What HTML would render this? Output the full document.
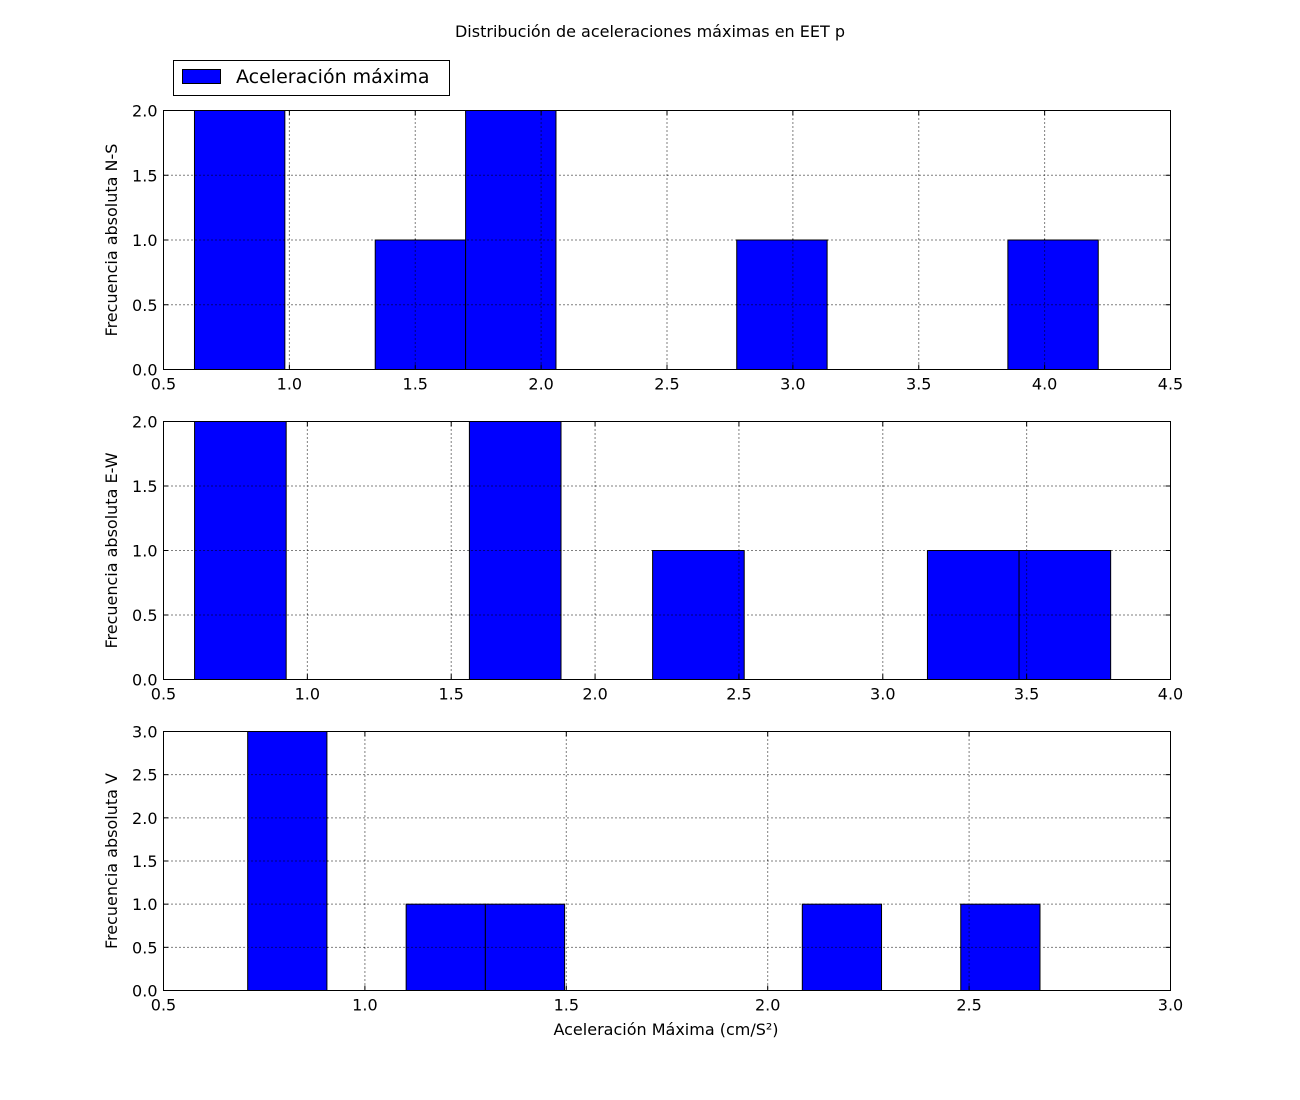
<!DOCTYPE html>
<html><head><meta charset="utf-8"><style>
body{margin:0;background:#fff;}
svg{display:block;font-family:"DejaVu Sans","Liberation Sans",sans-serif;}
</style></head><body>
<svg id="chart" width="1300" height="1100" xmlns="http://www.w3.org/2000/svg">
<rect width="1300" height="1100" fill="#fff"/>
<text x="650" y="37" text-anchor="middle" font-size="16">Distribución de aceleraciones máximas en EET p</text>
<g>
<rect x="173.5" y="60.5" width="276" height="35" fill="#fff" stroke="#000"/>
<rect x="182.5" y="69.5" width="38" height="14" fill="#0000ff" stroke="#000"/>
<text x="236" y="83" font-size="19">Aceleración máxima</text>
</g>
<text x="666" y="1035" text-anchor="middle" font-size="16">Aceleración Máxima (cm/S²)</text>
</svg>
<script>
const nsStart = 0.623, nsWidth = 0.359;
const nsCounts = [2,0,1,2,0,0,1,0,0,1];
const nsXTicks = [0.5,1.0,1.5,2.0,2.5,3.0,3.5,4.0,4.5];
const nsYTicks = [0.0,0.5,1.0,1.5,2.0];
const ewStart = 0.608, ewWidth = 0.3184;
const ewCounts = [2,0,0,2,0,1,0,0,1,1];
const ewXTicks = [0.5,1.0,1.5,2.0,2.5,3.0,3.5,4.0];
const ewYTicks = [0.0,0.5,1.0,1.5,2.0];
const vStart = 0.709, vWidth = 0.1967;
const vCounts = [3,0,1,1,0,0,0,1,0,1];
const vXTicks = [0.5,1.0,1.5,2.0,2.5,3.0];
const vYTicks = [0.0,0.5,1.0,1.5,2.0,2.5,3.0];

const svg = document.getElementById('chart');
const NS = 'http://www.w3.org/2000/svg';
function mk(tag, attrs){const e=document.createElementNS(NS,tag);for(const k in attrs)e.setAttribute(k,attrs[k]);return e;}

function panel(key, top, bottom, start, width, counts, xt, yt, ylabel){
  const L=163.5, R=1170.5;
  const g = mk('g',{});
  
  
  svg.appendChild(g);
  const x0=xt[0], x1=xt[xt.length-1], y1=yt[yt.length-1];
  const sx=v=>L+(v-x0)/(x1-x0)*(R-L);
  const sy=v=>bottom-v/y1*(bottom-top);
  counts.forEach((c,i)=>{
    if(c<=0) return;
    const a=sx(start+i*width), b=sx(start+(i+1)*width);
    const r=mk('rect',{x:a,y:sy(c),width:b-a,height:sy(0)-sy(c),fill:'#0000ff',stroke:'#000','stroke-width':1});
    
    
    g.appendChild(r);
  });
  xt.forEach(v=>{
    const x=sx(v);
    const gl=mk('line',{x1:x,x2:x,y1:top,y2:bottom,stroke:'#000','stroke-dasharray':'1,3','stroke-width':1});
    
    
    g.appendChild(gl);
    g.appendChild(mk('line',{x1:x,x2:x,y1:bottom,y2:bottom-5,stroke:'#000'}));
    g.appendChild(mk('line',{x1:x,x2:x,y1:top,y2:top+5,stroke:'#000'}));
    const t=mk('text',{x:x,y:bottom+20,'text-anchor':'middle','font-size':16});
    t.textContent=v.toFixed(1);
    
    
    g.appendChild(t);
  });
  yt.forEach(v=>{
    const y=sy(v);
    const gl=mk('line',{x1:L,x2:R,y1:y,y2:y,stroke:'#000','stroke-dasharray':'1,3','stroke-width':1});
    
    
    g.appendChild(gl);
    g.appendChild(mk('line',{x1:L,x2:L+5,y1:y,y2:y,stroke:'#000'}));
    g.appendChild(mk('line',{x1:R,x2:R-5,y1:y,y2:y,stroke:'#000'}));
    const t=mk('text',{x:L-6,y:y+6,'text-anchor':'end','font-size':16});
    t.textContent=v.toFixed(1);
    
    
    g.appendChild(t);
  });
  const fr=mk('rect',{x:L,y:top,width:R-L,height:bottom-top,fill:'none',stroke:'#000'});
  
  
  g.appendChild(fr);
  const cy=(top+bottom)/2;
  const yl=mk('text',{x:117,y:cy,'text-anchor':'middle','font-size':16,transform:'rotate(-90 117 '+cy+')'});
  yl.textContent=ylabel;
  
  
  g.appendChild(yl);
}
panel('ns',110.5,369.5,nsStart,nsWidth,nsCounts,nsXTicks,nsYTicks,'Frecuencia absoluta N-S');
panel('ew',421.5,679.5,ewStart,ewWidth,ewCounts,ewXTicks,ewYTicks,'Frecuencia absoluta E-W');
panel('v',731.5,990.5,vStart,vWidth,vCounts,vXTicks,vYTicks,'Frecuencia absoluta V');
</script>
</body></html>
